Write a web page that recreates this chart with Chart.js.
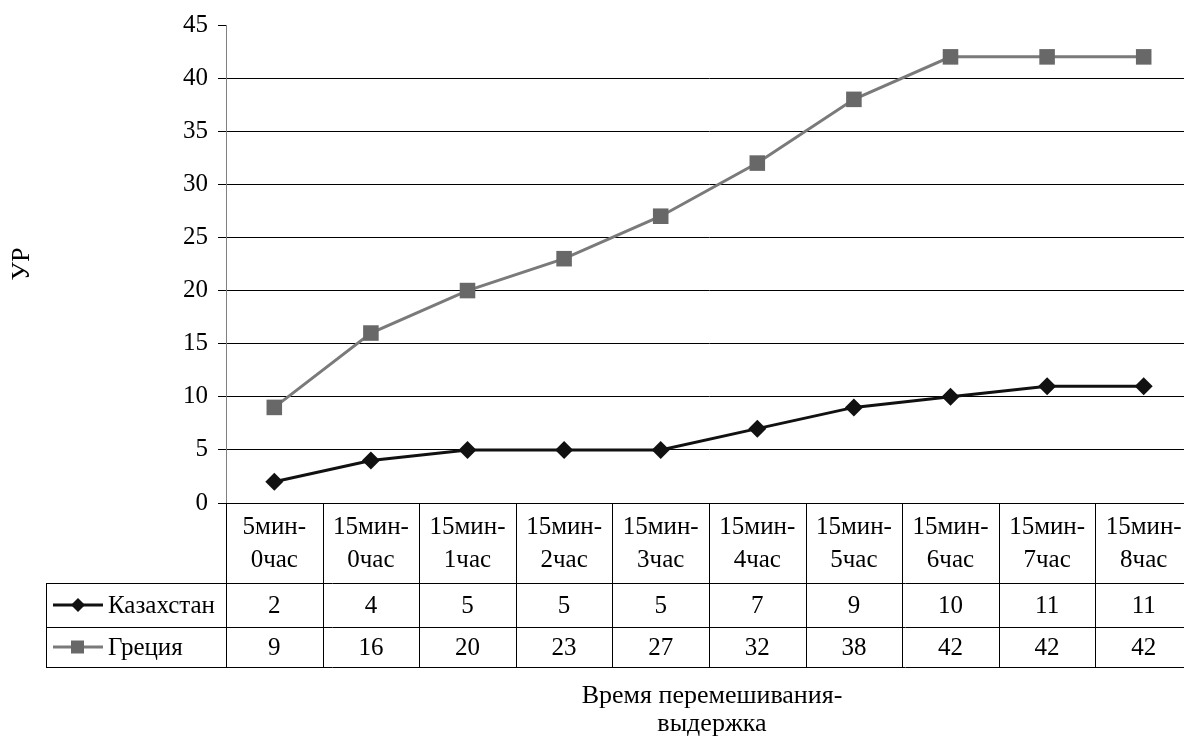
<!DOCTYPE html>
<html>
<head>
  <script src="https://cdn.jsdelivr.net/npm/chart.js"></script>
</head>
<body style="margin:0;background:#fff;">
  <div style="width:1184px;height:738px;overflow:hidden;">
    <canvas id="chart" width="1192" height="738"></canvas>
  </div>
  <script>
    const categories = [
      ['5мин-', '0час'], ['15мин-', '0час'], ['15мин-', '1час'], ['15мин-', '2час'], ['15мин-', '3час'],
      ['15мин-', '4час'], ['15мин-', '5час'], ['15мин-', '6час'], ['15мин-', '7час'], ['15мин-', '8час']
    ];
    const kazakhstan = [2, 4, 5, 5, 5, 7, 9, 10, 11, 11];
    const greece = [9, 16, 20, 23, 27, 32, 38, 42, 42, 42];
    const seriesNames = ['Казахстан', 'Греция'];
    const yTitle = 'УР';
    const xTitle = ['Время перемешивания-', 'выдержка'];

    const FONT = '"Liberation Serif", "Times New Roman", serif';
    const FS = 25;

    // data table under the plot, drawn from the x scale positions
    const dataTable = {
      id: 'dataTable',
      afterDraw(chart) {
        const ctx = chart.ctx;
        const x = chart.scales.x;
        const y = chart.scales.y;
        const n = categories.length;
        const cw = (x.right - x.left) / n;
        const top = y.bottom;
        const headBottom = top + 80;
        const row1 = headBottom + 44;
        const row2 = row1 + 40;
        const legLeft = 46;

        ctx.save();
        ctx.strokeStyle = '#000';
        ctx.lineWidth = 1;
        ctx.beginPath();
        for (let i = 0; i <= n; i++) {
          const px = Math.round(x.left + i * cw) + 0.5;
          ctx.moveTo(px, top);
          ctx.lineTo(px, row2);
        }
        ctx.moveTo(legLeft + 0.5, headBottom);
        ctx.lineTo(legLeft + 0.5, row2);
        [headBottom, row1, row2].forEach(py => {
          ctx.moveTo(legLeft, py + 0.5);
          ctx.lineTo(x.right, py + 0.5);
        });
        ctx.stroke();

        ctx.fillStyle = '#000';
        ctx.font = FS + 'px ' + FONT;
        ctx.textAlign = 'center';
        ctx.textBaseline = 'middle';
        categories.forEach((lab, i) => {
          const cx = x.getPixelForValue(i);
          ctx.fillText(lab[0], cx, top + 24);
          ctx.fillText(lab[1], cx, top + 57);
          ctx.fillText(String(kazakhstan[i]), cx, (headBottom + row1) / 2 + 1);
          ctx.fillText(String(greece[i]), cx, (row1 + row2) / 2 + 1);
        });

        // legend keys
        const rows = [(headBottom + row1) / 2, (row1 + row2) / 2];
        chart.data.datasets.forEach((ds, k) => {
          const ly = rows[k];
          ctx.strokeStyle = ds.borderColor;
          ctx.lineWidth = ds.borderWidth;
          ctx.beginPath();
          ctx.moveTo(53, ly);
          ctx.lineTo(103, ly);
          ctx.stroke();
          ctx.fillStyle = ds.pointBackgroundColor;
          ctx.beginPath();
          if (k === 0) {
            ctx.moveTo(78, ly - 7); ctx.lineTo(85, ly); ctx.lineTo(78, ly + 7); ctx.lineTo(71, ly);
            ctx.closePath();
          } else {
            ctx.rect(71, ly - 6.5, 13, 13);
          }
          ctx.fill();
          ctx.fillStyle = '#000';
          ctx.textAlign = 'left';
          ctx.fillText(seriesNames[k], 108, ly + 1);
        });

        // x axis title
        ctx.font = '26px ' + FONT;
        ctx.textAlign = 'center';
        ctx.fillText(xTitle[0], 712, 696);
        ctx.fillText(xTitle[1], 712, 724);
        ctx.restore();
      }
    };

    new Chart(document.getElementById('chart'), {
      type: 'line',
      data: {
        labels: categories.map(c => c.join('')),
        datasets: [
          {
            label: seriesNames[0],
            data: kazakhstan,
            borderColor: '#111',
            backgroundColor: '#111',
            pointBackgroundColor: '#111',
            pointBorderColor: '#111',
            borderWidth: 3,
            pointStyle: 'rectRot',
            pointRadius: 9,
            pointBorderWidth: 0,
            tension: 0
          },
          {
            label: seriesNames[1],
            data: greece,
            borderColor: '#7a7a7a',
            backgroundColor: '#686868',
            pointBackgroundColor: '#686868',
            pointBorderColor: '#686868',
            borderWidth: 3,
            pointStyle: 'rect',
            pointRadius: 11,
            pointBorderWidth: 0,
            tension: 0
          }
        ]
      },
      options: {
        responsive: false,
        animation: false,
        layout: { autoPadding: false, padding: { top: 23, left: 3, right: 0, bottom: 0 } },
        plugins: {
          legend: { display: false },
          tooltip: { enabled: false }
        },
        scales: {
          x: {
            offset: true,
            grid: { display: false, offset: true },
            border: { display: false },
            ticks: { display: false },
            afterFit: s => { s.height = 235; }
          },
          y: {
            min: 0,
            max: 45,
            ticks: {
              stepSize: 5,
              color: '#000',
              padding: 10,
              font: { family: FONT, size: FS }
            },
            grid: {
              color: ctx => ctx.tick.value === 45 ? 'rgba(0,0,0,0)' : '#000',
              tickColor: '#000',
              tickLength: 8,
              lineWidth: 1
            },
            border: { color: '#808080', width: 1 },
            title: {
              display: true,
              text: yTitle,
              color: '#000',
              font: { family: FONT, size: 26 }
            },
            afterFit: s => { s.width = 223; }
          }
        }
      },
      plugins: [dataTable]
    });
  </script>
</body>
</html>
